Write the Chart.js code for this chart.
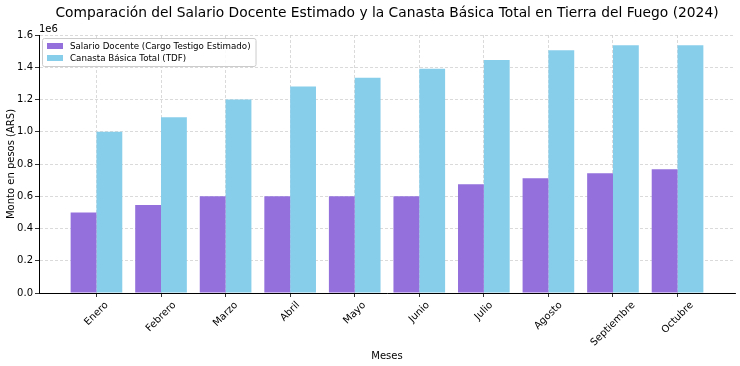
<!DOCTYPE html>
<html>
<head>
<meta charset="utf-8">
<script src="https://cdn.jsdelivr.net/npm/chart.js@4/dist/chart.umd.min.js"></script>
<style>
  body { margin: 0; background: #fff; }
  #wrap { width: 740px; height: 366px; }
</style>
</head>
<body>
<div id="wrap"><canvas id="chart"></canvas></div>
<script>
// datos
const meses = ['Enero', 'Febrero', 'Marzo', 'Abril', 'Mayo', 'Junio', 'Julio', 'Agosto', 'Septiembre', 'Octubre'];
const salarioDocente = [500000, 545000, 600000, 600000, 600000, 600000, 675000, 712000, 743000, 768000];
const canastaBasica = [1000000, 1090000, 1200000, 1280000, 1335000, 1390000, 1445000, 1505000, 1537000, 1537000];
const yTicks = [0, 200000, 400000, 600000, 800000, 1000000, 1200000, 1400000, 1600000];
const titulo = 'Comparación del Salario Docente Estimado y la Canasta Básica Total en Tierra del Fuego (2024)';

const FONT = "'DejaVu Sans', sans-serif";
const PURPLE = '#9370DB';
const SKY = '#87CEEB';

// título, etiquetas rotadas centradas y leyenda interna, estilo matplotlib
const mplExtras = {
  id: 'mplExtras',
  afterDraw(chart) {
    const ctx = chart.ctx;
    const area = chart.chartArea;
    ctx.save();
    ctx.fillStyle = '#000';
    ctx.font = '13.8px ' + FONT;
    ctx.textAlign = 'center';
    ctx.textBaseline = 'middle';
    ctx.fillText(titulo, (area.left + area.right) / 2, 13);

    // etiquetas del eje x: caja rotada centrada en la marca
    const xs = chart.scales.x;
    ctx.font = '10px ' + FONT;
    xs.ticks.forEach((t, i) => {
      const label = meses[t.value];
      const w = ctx.measureText(label).width;
      const half = (w + 10) * Math.SQRT1_2 / 2;
      ctx.save();
      ctx.translate(xs.getPixelForTick(i), area.bottom + 7 + half);
      ctx.rotate(-Math.PI / 4);
      ctx.fillText(label, 0, 0);
      ctx.restore();
    });
    ctx.textAlign = 'left';

    const x = area.left + 3, y = area.top + 3;
    ctx.font = '8.7px ' + FONT;
    const labels = chart.data.datasets.map(d => d.label);
    const w = Math.max(...labels.map(l => ctx.measureText(l).width)) + 33;
    const h = 28;
    ctx.fillStyle = 'rgba(255,255,255,0.85)';
    ctx.strokeStyle = '#cccccc';
    ctx.lineWidth = 1;
    ctx.beginPath();
    ctx.roundRect(x + 0.5, y + 0.5, w, h, 2);
    ctx.fill();
    ctx.stroke();
    chart.data.datasets.forEach((d, i) => {
      const cy = y + 8 + i * 12;
      ctx.fillStyle = d.backgroundColor;
      ctx.fillRect(x + 5, cy - 3, 16, 6);
      ctx.fillStyle = '#000';
      ctx.textBaseline = 'middle';
      ctx.fillText(d.label, x + 28, cy + 0.5);
    });
    // multiplicador del eje y
    ctx.font = '10px ' + FONT;
    ctx.textBaseline = 'alphabetic';
    ctx.fillText('1e6', area.left, area.top - 3);
    ctx.restore();
  }
};

new Chart(document.getElementById('chart'), {
  type: 'bar',
  data: {
    datasets: [
      {
        label: 'Salario Docente (Cargo Testigo Estimado)',
        data: salarioDocente.map((v, i) => ({ x: i, y: v })),
        backgroundColor: PURPLE,
        categoryPercentage: 0.8,
        barPercentage: 1.0
      },
      {
        label: 'Canasta Básica Total (TDF)',
        data: canastaBasica.map((v, i) => ({ x: i, y: v })),
        backgroundColor: SKY,
        categoryPercentage: 0.8,
        barPercentage: 1.0
      }
    ]
  },
  options: {
    responsive: true,
    maintainAspectRatio: false,
    animation: false,
    layout: { padding: { left: 0, right: 5, top: 35, bottom: 0 } },
    plugins: {
      legend: { display: false },
      tooltip: { enabled: false },
      title: { display: false }
    },
    scales: {
      x: {
        type: 'linear',
        min: -0.89,
        max: 9.89,
        offset: false,
        afterBuildTicks: (scale) => { scale.ticks = meses.map((_, i) => ({ value: i })); },
        afterFit: (scale) => { scale.height = 73; },
        ticks: { display: false },
        grid: {
          offset: false,
          color: '#d0d0d0',
          lineWidth: 0.8,
          tickColor: '#000',
          tickLength: 4,
          tickBorderDash: []
        },
        border: { display: true, color: '#000', width: 1, dash: [3, 2] },
        title: {
          display: true,
          text: 'Meses',
          color: '#000',
          font: { family: FONT, size: 10 },
          padding: 4
        }
      },
      y: {
        min: 0,
        max: 1600000,
        afterBuildTicks: (scale) => { scale.ticks = yTicks.map(v => ({ value: v })); },
        afterFit: (scale) => { scale.width = 39; },
        ticks: {
          callback: (v) => (v / 1e6).toFixed(1),
          color: '#000',
          font: { family: FONT, size: 10 },
          padding: 2
        },
        grid: {
          color: '#d0d0d0',
          lineWidth: 0.8,
          tickColor: '#000',
          tickLength: 4,
          tickBorderDash: []
        },
        border: { display: true, color: '#000', width: 1, dash: [3, 2] },
        title: {
          display: true,
          text: 'Monto en pesos (ARS)',
          color: '#000',
          font: { family: FONT, size: 10 },
          padding: 5
        }
      }
    }
  },
  plugins: [mplExtras]
});
</script>
</body>
</html>
